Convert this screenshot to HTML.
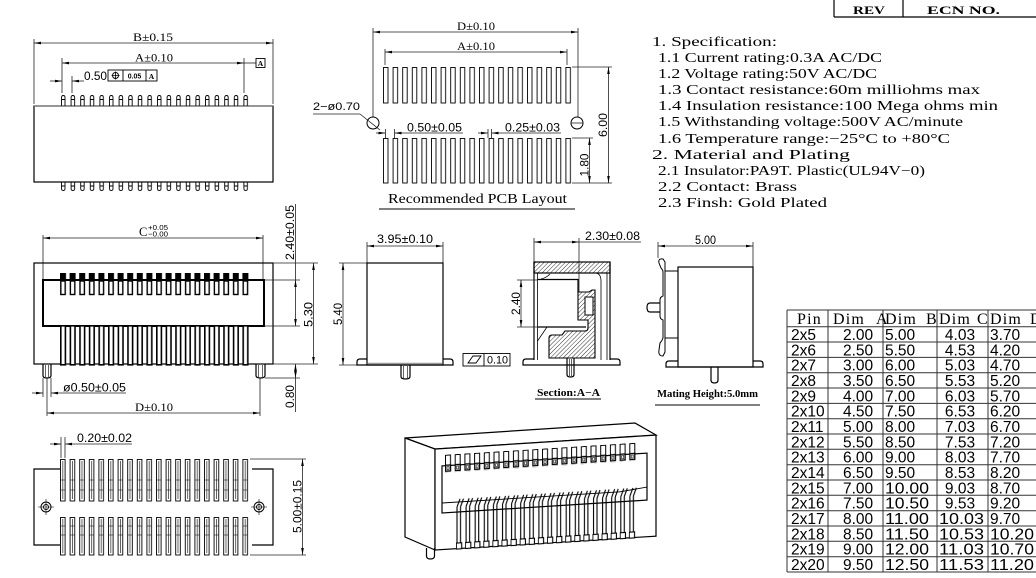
<!DOCTYPE html>
<html><head><meta charset="utf-8"><style>
html,body{margin:0;padding:0;background:#fff;width:1036px;height:578px;overflow:hidden}
svg{display:block}
.d{stroke:#222;stroke-width:.8;fill:none}
.o{stroke:#000;stroke-width:1.2;fill:none}
.s{font-family:"Liberation Sans",sans-serif;fill:#000}
.r{font-family:"Liberation Serif",serif;fill:#000}
</style></head><body>
<svg width="1036" height="578" viewBox="0 0 1036 578" xmlns="http://www.w3.org/2000/svg">
<defs>
<marker id="a" viewBox="0 0 8 4" refX="8" refY="2" markerWidth="7" markerHeight="3.5" markerUnits="userSpaceOnUse" orient="auto-start-reverse"><path d="M0,0.5L8,2L0,3.5z" fill="#000"/></marker>
<pattern id="hat" width="3" height="3" patternUnits="userSpaceOnUse" patternTransform="rotate(45)"><line x1="0" y1="0" x2="0" y2="3" stroke="#000" stroke-width="0.8"/></pattern>
<pattern id="tp" x="61" y="95" width="9.6" height="11" patternUnits="userSpaceOnUse"><path d="M0.5,11V2.5Q0.5,0.5 2.3,0.5Q4,0.5 4,2.5V11M0.5,4.5H4" fill="none" stroke="#000" stroke-width="0.9"/></pattern>
<pattern id="bp" x="61" y="182" width="9.6" height="9" patternUnits="userSpaceOnUse"><path d="M0.5,0V6.5Q0.5,8.5 2.3,8.5Q4,8.5 4,6.5V0M0.5,4H4" fill="none" stroke="#000" stroke-width="0.9"/></pattern>
<pattern id="pt" x="383" y="67" width="9.6" height="37" patternUnits="userSpaceOnUse"><rect x="0.5" y="0.5" width="4.5" height="35.5" fill="none" stroke="#000" stroke-width="0.9"/></pattern>
<pattern id="pb" x="383" y="138" width="9.6" height="46" patternUnits="userSpaceOnUse"><rect x="0.5" y="0.5" width="4.5" height="44.5" fill="none" stroke="#000" stroke-width="0.9"/></pattern>
<pattern id="mt" x="60" y="273" width="9.6" height="23" patternUnits="userSpaceOnUse"><rect x="0" y="0" width="6" height="8" fill="#000"/><rect x="0.8" y="8" width="4.4" height="13.5" fill="#fff" stroke="#000" stroke-width="1.4"/></pattern>
<pattern id="mb" x="60" y="325" width="9.6" height="41" patternUnits="userSpaceOnUse"><rect x="0.8" y="0.8" width="4.6" height="39" fill="#fff" stroke="#000" stroke-width="1.6"/></pattern>
<pattern id="bt" x="60" y="459" width="9.6" height="43" patternUnits="userSpaceOnUse"><rect x="0.5" y="0.5" width="4.6" height="41.5" fill="#fff" stroke="#000" stroke-width="0.9"/><path d="M2.8,2V40M0.5,21H5M0.5,31H5" stroke="#000" stroke-width="0.6"/></pattern>
<pattern id="bb" x="60" y="517" width="9.6" height="39" patternUnits="userSpaceOnUse"><rect x="0.5" y="0.5" width="4.6" height="37.5" fill="#fff" stroke="#000" stroke-width="0.9"/><path d="M2.8,2V36M0.5,9H5M0.5,18H5" stroke="#000" stroke-width="0.6"/></pattern>
<pattern id="t3" x="445" y="455" width="9.7" height="18" patternUnits="userSpaceOnUse"><rect x="0.5" y="0.5" width="5" height="10" fill="#fff" stroke="#000" stroke-width="1"/><rect x="0.5" y="10.5" width="5" height="6" fill="#fff" stroke="#000" stroke-width="1.3"/><rect x="2" y="12" width="2" height="3" fill="none" stroke="#000" stroke-width="0.6"/></pattern>
<pattern id="b3" x="456" y="498" width="9.1" height="54" patternUnits="userSpaceOnUse"><path d="M1,10V46M4.5,10V46M1,10L4,2M4.5,10L7.5,2" fill="none" stroke="#000" stroke-width="1.1"/><rect x="0.3" y="46" width="5.4" height="6" fill="#fff" stroke="#000" stroke-width="1.1"/></pattern>
</defs>

<!-- REV box -->
<path d="M834,0V17M903,0V17M834,17H1036" stroke="#000" stroke-width="1.2" fill="none"/>
<text class="r" x="853" y="14" font-size="12" font-weight="bold" textLength="32" lengthAdjust="spacingAndGlyphs">REV</text>
<text class="r" x="927" y="14" font-size="12" font-weight="bold" textLength="73" lengthAdjust="spacingAndGlyphs">ECN  NO.</text>

<!-- ============ TOP VIEW ============ -->
<line class="d" x1="34" y1="39" x2="34" y2="104"/>
<line class="d" x1="273" y1="39" x2="273" y2="104"/>
<line class="d" x1="34" y1="43" x2="273" y2="43" marker-start="url(#a)" marker-end="url(#a)"/>
<text class="r" x="133" y="41" font-size="11.5" textLength="40" lengthAdjust="spacingAndGlyphs">B±0.15</text>
<line class="d" x1="62" y1="58" x2="62" y2="93"/>
<line class="d" x1="244" y1="58" x2="244" y2="93"/>
<line class="d" x1="72" y1="76" x2="72" y2="93"/>
<line class="d" x1="62" y1="63" x2="244" y2="63" marker-start="url(#a)" marker-end="url(#a)"/>
<text class="r" x="135" y="61.5" font-size="11.5" textLength="38" lengthAdjust="spacingAndGlyphs">A±0.10</text>
<line class="d" x1="244" y1="63" x2="256" y2="63"/>
<rect x="256" y="58.5" width="9" height="9" fill="none" stroke="#000" stroke-width="0.9"/>
<text class="r" x="260.5" y="66" font-size="7.5" font-weight="bold" text-anchor="middle">A</text>
<line class="d" x1="50" y1="81" x2="62" y2="81" marker-end="url(#a)"/>
<line class="d" x1="84" y1="81" x2="72" y2="81" marker-end="url(#a)"/>
<text class="s" x="84" y="80" font-size="11.5" textLength="23" lengthAdjust="spacingAndGlyphs">0.50</text>
<rect x="108" y="70" width="49" height="11" fill="none" stroke="#000" stroke-width="0.9"/>
<line x1="123" y1="70" x2="123" y2="81" stroke="#000" stroke-width="0.9"/>
<line x1="146" y1="70" x2="146" y2="81" stroke="#000" stroke-width="0.9"/>
<circle cx="115.5" cy="75.5" r="3" fill="none" stroke="#000" stroke-width="0.9"/>
<path d="M111.5,75.5H119.5M115.5,71.5V79.5" stroke="#000" stroke-width="0.8"/>
<text class="s" x="134.5" y="78.5" font-size="7" font-weight="bold" text-anchor="middle">0.05</text>
<text class="r" x="151.5" y="79" font-size="7.5" font-weight="bold" text-anchor="middle">A</text>
<rect x="34" y="106" width="239" height="76" class="o"/>
<line x1="34" y1="106" x2="273" y2="106" stroke="#777" stroke-width="1.2"/>
<rect x="61" y="95" width="192" height="11" fill="url(#tp)"/>
<rect x="61" y="182" width="192" height="9" fill="url(#bp)"/>

<!-- ============ PCB LAYOUT ============ -->
<line class="d" x1="373" y1="28" x2="373" y2="117"/>
<line class="d" x1="578" y1="28" x2="578" y2="117"/>
<line class="d" x1="373" y1="32" x2="578" y2="32" marker-start="url(#a)" marker-end="url(#a)"/>
<text class="r" x="457" y="30" font-size="11.5" textLength="38" lengthAdjust="spacingAndGlyphs">D±0.10</text>
<line class="d" x1="385" y1="49" x2="385" y2="65"/>
<line class="d" x1="567" y1="49" x2="567" y2="65"/>
<line class="d" x1="385" y1="52" x2="567" y2="52" marker-start="url(#a)" marker-end="url(#a)"/>
<text class="r" x="457" y="50" font-size="11.5" textLength="38" lengthAdjust="spacingAndGlyphs">A±0.10</text>
<rect x="383" y="67" width="192" height="37" fill="url(#pt)"/>
<rect x="383" y="138" width="192" height="46" fill="url(#pb)"/>
<circle cx="373" cy="123" r="6" fill="none" stroke="#000" stroke-width="1"/>
<circle cx="577" cy="123" r="6" fill="none" stroke="#000" stroke-width="1"/>
<line class="d" x1="571" y1="123" x2="583" y2="123"/>
<text class="s" x="313" y="110" font-size="11" textLength="47" lengthAdjust="spacingAndGlyphs">2−ø0.70</text>
<line class="d" x1="313" y1="114" x2="360" y2="114"/>
<line class="d" x1="360" y1="114" x2="380" y2="130"/>
<line class="d" x1="385.5" y1="129" x2="385.5" y2="138"/>
<line class="d" x1="394.5" y1="129" x2="394.5" y2="138"/>
<line class="d" x1="376" y1="133" x2="385.5" y2="133" marker-end="url(#a)"/>
<line class="d" x1="463" y1="133" x2="394.5" y2="133" marker-end="url(#a)"/>
<text class="s" x="407" y="131.5" font-size="11.5" textLength="55" lengthAdjust="spacingAndGlyphs">0.50±0.05</text>
<line class="d" x1="488" y1="129" x2="488" y2="138"/>
<line class="d" x1="491.5" y1="129" x2="491.5" y2="138"/>
<line class="d" x1="478" y1="133" x2="488" y2="133" marker-end="url(#a)"/>
<line class="d" x1="561" y1="133" x2="491.5" y2="133" marker-end="url(#a)"/>
<text class="s" x="505" y="131.5" font-size="11.5" textLength="55" lengthAdjust="spacingAndGlyphs">0.25±0.03</text>
<line class="d" x1="572" y1="67" x2="612" y2="67"/>
<line class="d" x1="572" y1="183" x2="612" y2="183"/>
<line class="d" x1="572" y1="138" x2="593" y2="138"/>
<line class="d" x1="608.5" y1="67" x2="608.5" y2="183" marker-start="url(#a)" marker-end="url(#a)"/>
<text class="s" transform="translate(607,125) rotate(-90)" font-size="11.5" text-anchor="middle" textLength="24" lengthAdjust="spacingAndGlyphs">6.00</text>
<line class="d" x1="589.5" y1="138" x2="589.5" y2="183" marker-start="url(#a)" marker-end="url(#a)"/>
<text class="s" transform="translate(588.5,165) rotate(-90)" font-size="11.5" text-anchor="middle" textLength="23" lengthAdjust="spacingAndGlyphs">1.80</text>
<text class="r" x="388" y="203" font-size="13.5" textLength="179" lengthAdjust="spacingAndGlyphs">Recommended  PCB  Layout</text>
<line x1="379" y1="209" x2="575" y2="209" stroke="#000" stroke-width="1"/>

<!-- ============ SPEC ============ -->
<g class="r" font-size="13.5">
<text x="652" y="46" textLength="125" lengthAdjust="spacingAndGlyphs">1. Specification:</text>
<text x="658" y="62" textLength="224" lengthAdjust="spacingAndGlyphs">1.1  Current  rating:0.3A  AC/DC</text>
<text x="658" y="78" textLength="219" lengthAdjust="spacingAndGlyphs">1.2  Voltage  rating:50V  AC/DC</text>
<text x="658" y="94" textLength="322" lengthAdjust="spacingAndGlyphs">1.3  Contact  resistance:60m  milliohms  max</text>
<text x="658" y="110" textLength="340" lengthAdjust="spacingAndGlyphs">1.4  Insulation  resistance:100  Mega  ohms  min</text>
<text x="658" y="126" textLength="305" lengthAdjust="spacingAndGlyphs">1.5  Withstanding  voltage:500V  AC/minute</text>
<text x="658" y="143" textLength="292" lengthAdjust="spacingAndGlyphs">1.6  Temperature  range:−25°C  to  +80°C</text>
<text x="652" y="159" textLength="198" lengthAdjust="spacingAndGlyphs">2. Material  and  Plating</text>
<text x="658" y="175" textLength="267" lengthAdjust="spacingAndGlyphs">2.1  Insulator:PA9T.  Plastic(UL94V−0)</text>
<text x="658" y="191" textLength="139" lengthAdjust="spacingAndGlyphs">2.2  Contact:  Brass</text>
<text x="658" y="207" textLength="169" lengthAdjust="spacingAndGlyphs">2.3  Finsh:  Gold  Plated</text>
</g>

<!-- ============ MID-LEFT VIEW ============ -->
<line class="d" x1="43" y1="235" x2="43" y2="280"/>
<line class="d" x1="263" y1="235" x2="263" y2="280"/>
<line class="d" x1="43" y1="238" x2="263" y2="238" marker-start="url(#a)" marker-end="url(#a)"/>
<text class="r" x="139" y="236" font-size="12.5">C</text>
<text class="s" x="148" y="230" font-size="7.5" textLength="20" lengthAdjust="spacingAndGlyphs">+0.05</text>
<text class="s" x="148" y="236.5" font-size="7.5" textLength="20" lengthAdjust="spacingAndGlyphs">−0.00</text>
<rect x="34" y="263" width="239" height="101" class="o"/>
<rect x="43" y="280" width="221" height="46" fill="none" stroke="#000" stroke-width="2"/>
<rect x="60" y="273" width="192" height="23" fill="url(#mt)"/>
<rect x="60" y="325" width="192" height="41" fill="url(#mb)"/>
<path class="o" d="M43,364V375.5Q43,378 47,378Q51,378 51,375.5V364"/>
<path d="M45.5,365V377M48.5,365V377" stroke="#000" stroke-width="0.6"/>
<path class="o" d="M256,364V375.5Q256,378 260.5,378Q265,378 265,375.5V364"/>
<path d="M258.5,365V377M262.5,365V377" stroke="#000" stroke-width="0.6"/>
<line class="d" x1="43" y1="378" x2="43" y2="397"/>
<line class="d" x1="51" y1="378" x2="51" y2="397"/>
<line class="d" x1="32" y1="393" x2="43" y2="393" marker-end="url(#a)"/>
<line class="d" x1="126" y1="393" x2="51" y2="393" marker-end="url(#a)"/>
<text class="s" x="63" y="391.5" font-size="11.5" textLength="63" lengthAdjust="spacingAndGlyphs">ø0.50±0.05</text>
<line class="d" x1="47" y1="378" x2="47" y2="416"/>
<line class="d" x1="260" y1="378" x2="260" y2="416"/>
<line class="d" x1="47" y1="413" x2="260" y2="413" marker-start="url(#a)" marker-end="url(#a)"/>
<text class="r" x="135" y="411" font-size="11.5" textLength="38" lengthAdjust="spacingAndGlyphs">D±0.10</text>
<line class="d" x1="264" y1="280" x2="300" y2="280"/>
<line class="d" x1="264" y1="326" x2="300" y2="326"/>
<line class="d" x1="273" y1="263" x2="318" y2="263"/>
<line class="d" x1="273" y1="364" x2="318" y2="364"/>
<line class="d" x1="265" y1="378" x2="300" y2="378"/>
<line class="d" x1="295.5" y1="204" x2="295.5" y2="280"/>
<line class="d" x1="295.5" y1="280" x2="295.5" y2="326" marker-start="url(#a)" marker-end="url(#a)"/>
<text class="s" transform="translate(294,232.5) rotate(-90)" font-size="12" text-anchor="middle" textLength="55" lengthAdjust="spacingAndGlyphs">2.40±0.05</text>
<line class="d" x1="313.5" y1="263" x2="313.5" y2="364" marker-start="url(#a)" marker-end="url(#a)"/>
<text class="s" transform="translate(312.5,314.5) rotate(-90)" font-size="12" text-anchor="middle" textLength="25" lengthAdjust="spacingAndGlyphs">5.30</text>
<line class="d" x1="295.5" y1="364" x2="295.5" y2="378" marker-start="url(#a)" marker-end="url(#a)"/>
<line class="d" x1="295.5" y1="378" x2="295.5" y2="412"/>
<text class="s" transform="translate(294,396.5) rotate(-90)" font-size="12" text-anchor="middle" textLength="23" lengthAdjust="spacingAndGlyphs">0.80</text>

<!-- ============ FRONT VIEW ============ -->
<line class="d" x1="367" y1="242" x2="367" y2="263"/>
<line class="d" x1="443" y1="242" x2="443" y2="263"/>
<line class="d" x1="367" y1="246" x2="443" y2="246" marker-start="url(#a)" marker-end="url(#a)"/>
<text class="s" x="377" y="243" font-size="12" textLength="56" lengthAdjust="spacingAndGlyphs">3.95±0.10</text>
<line class="d" x1="339" y1="263" x2="367" y2="263"/>
<line class="d" x1="339" y1="365" x2="357" y2="365"/>
<line class="d" x1="343" y1="263" x2="343" y2="365" marker-start="url(#a)" marker-end="url(#a)"/>
<text class="s" transform="translate(342,314) rotate(-90)" font-size="12" text-anchor="middle" textLength="22" lengthAdjust="spacingAndGlyphs">5.40</text>
<rect x="367" y="263" width="76" height="102" class="o"/>
<line x1="368" y1="363.5" x2="442" y2="363.5" stroke="#999" stroke-width="1.5"/>
<path class="o" d="M367,359H360Q357,359 357,362V365H453V362Q453,359 450,359H443"/>
<path class="o" d="M401,365V376.5Q401,379 405.5,379Q410,379 410,376.5V365"/>
<path d="M403.5,366V378M407.5,366V378" stroke="#000" stroke-width="0.6"/>
<rect x="463" y="353.5" width="47" height="12.5" fill="none" stroke="#000" stroke-width="0.9"/>
<line x1="484" y1="353.5" x2="484" y2="366" stroke="#000" stroke-width="0.9"/>
<polygon points="468,363 473,356 481,356 476,363" fill="none" stroke="#000" stroke-width="0.9"/>
<text class="s" x="487" y="363.5" font-size="11" textLength="21" lengthAdjust="spacingAndGlyphs">0.10</text>

<!-- ============ SECTION A-A ============ -->
<line class="d" x1="534" y1="238" x2="534" y2="262"/>
<line class="d" x1="579" y1="238" x2="579" y2="292"/>
<line class="d" x1="534" y1="242" x2="579" y2="242" marker-start="url(#a)" marker-end="url(#a)"/>
<line class="d" x1="579" y1="242" x2="641" y2="242"/>
<text class="s" x="585" y="240" font-size="12" textLength="55" lengthAdjust="spacingAndGlyphs">2.30±0.08</text>
<rect x="534" y="262" width="76" height="11" fill="url(#hat)" stroke="#000" stroke-width="1.2"/>
<path class="o" d="M534,262V360M610,262V360"/>
<path d="M537.5,273V360M607,273V360" stroke="#000" stroke-width="0.8" fill="none"/>
<path d="M596,273Q601,274 601,281V360" stroke="#000" stroke-width="0.8" fill="none"/>
<path class="o" d="M534,359H526Q523,359 523,362V365H620V362Q620,359 617,359H610"/>
<path class="o" d="M537.5,279.5H578V292"/>
<path d="M541,279Q546,278 550,274" stroke="#000" stroke-width="0.8" fill="none"/>
<path d="M578,292H589L592,290H595V358H549V338Q549,335 552,335H562L565,331H585Q588,331 588,328V320H578Z" fill="url(#hat)" stroke="#000" stroke-width="1.1"/>
<rect x="585" y="297" width="8" height="18" fill="#fff" stroke="#000" stroke-width="1"/>
<path class="o" d="M537.5,327H586"/>
<path d="M537.5,341L547,327" stroke="#000" stroke-width="0.8"/>
<line class="d" x1="517" y1="280" x2="537" y2="280"/>
<line class="d" x1="517" y1="327" x2="537" y2="327"/>
<line class="d" x1="521" y1="280" x2="521" y2="327" marker-start="url(#a)" marker-end="url(#a)"/>
<text class="s" transform="translate(520,303.5) rotate(-90)" font-size="12" text-anchor="middle" textLength="23" lengthAdjust="spacingAndGlyphs">2.40</text>
<path class="o" d="M567,358V374.5Q567,377 570.5,377Q574,377 574,374.5V358"/>
<path d="M569.5,359V376M571.5,359V376" stroke="#000" stroke-width="0.6"/>
<text class="r" x="537" y="396" font-size="10.5" font-weight="bold" textLength="63" lengthAdjust="spacingAndGlyphs">Section:A−A</text>
<line x1="535" y1="399" x2="601" y2="399" stroke="#000" stroke-width="1"/>

<!-- ============ MATING VIEW ============ -->
<line class="d" x1="658" y1="242" x2="658" y2="258"/>
<line class="d" x1="753" y1="242" x2="753" y2="267"/>
<line class="d" x1="658" y1="246" x2="753" y2="246" marker-start="url(#a)" marker-end="url(#a)"/>
<text class="s" x="695" y="244" font-size="12" textLength="21" lengthAdjust="spacingAndGlyphs">5.00</text>
<rect x="678" y="267" width="75" height="100" class="o"/>
<path d="M678,271H665M678,338H665" stroke="#000" stroke-width="1"/>
<path d="M663,259Q658,258 659,263L661,268Q663,270 663,272V296Q660,297 660,300V316Q660,319 663,320V338Q662,341 660,343L659,350Q658,356 663,356L665,352V262Z" fill="#fff" stroke="#000" stroke-width="1"/>
<path class="o" d="M660,303H650Q647,303 647,307.5Q647,312 650,312H660"/>
<path class="o" d="M678,361H669Q666,361 666,364V367H763V364Q763,361 760,361H753"/>
<path class="o" d="M711,367V380Q711,383 714.5,383Q718,383 718,380V367"/>
<text class="r" x="657" y="397" font-size="10.5" font-weight="bold" textLength="101" lengthAdjust="spacingAndGlyphs">Mating  Height:5.0mm</text>
<line x1="655" y1="405" x2="760" y2="405" stroke="#000" stroke-width="1"/>

<!-- ============ BOTTOM VIEW ============ -->
<line class="d" x1="61" y1="437" x2="61" y2="458"/>
<line class="d" x1="65" y1="437" x2="65" y2="458"/>
<line class="d" x1="50" y1="444" x2="61" y2="444" marker-end="url(#a)"/>
<line class="d" x1="132" y1="444" x2="65" y2="444" marker-end="url(#a)"/>
<text class="s" x="77" y="442" font-size="11.5" textLength="55" lengthAdjust="spacingAndGlyphs">0.20±0.02</text>
<path class="o" d="M60,469H34V545H60M252,469H273V545H252"/>
<rect x="60" y="459" width="192" height="43" fill="url(#bt)"/>
<rect x="60" y="517" width="192" height="39" fill="url(#bb)"/>
<g fill="none" stroke="#000">
<circle cx="46" cy="507" r="5" stroke-width="1"/><circle cx="46" cy="507" r="2.5" stroke-width="0.9"/>
<path d="M38,507H54M46,499V515" stroke-width="0.6"/>
<circle cx="259" cy="507" r="5" stroke-width="1"/><circle cx="259" cy="507" r="2.5" stroke-width="0.9"/>
<path d="M251,507H267M259,499V515" stroke-width="0.6"/>
</g>
<line class="d" x1="250" y1="459" x2="306" y2="459"/>
<line class="d" x1="250" y1="555" x2="306" y2="555"/>
<line class="d" x1="302.5" y1="459" x2="302.5" y2="555" marker-start="url(#a)" marker-end="url(#a)"/>
<text class="s" transform="translate(301.5,506.5) rotate(-90)" font-size="12" text-anchor="middle" textLength="53" lengthAdjust="spacingAndGlyphs">5.00±0.15</text>

<!-- ============ 3D VIEW ============ -->
<polygon points="405,438 635,423 656,435 435,449" fill="#fff" stroke="#000" stroke-width="1.2"/>
<polygon points="405,438 435,449 435,550 405,537" fill="#fff" stroke="#000" stroke-width="1.2"/>
<path class="o" d="M426.5,548V556Q426.5,559 430.5,559Q434.5,559 434.5,556V548"/>
<g transform="translate(0,27.8) skewY(-3.6)">
<rect x="435" y="448.6" width="221" height="101" fill="#fff" stroke="#000" stroke-width="1.2"/>
<rect x="442" y="466" width="205" height="47" fill="none" stroke="#000" stroke-width="1.2"/>
<line x1="442" y1="503" x2="620" y2="503" stroke="#000" stroke-width="0.9"/>
<line x1="620" y1="503" x2="647" y2="500" stroke="#000" stroke-width="0.9"/>
<rect x="445" y="455" width="194" height="18" fill="url(#t3)"/>
<rect x="456" y="498" width="182" height="54" fill="url(#b3)"/>
</g>

<!-- ============ TABLE ============ -->
<g stroke="#333" stroke-width="1">
<path d="M787,310V572M828,310V572M883,310V572M937,310V572M988,310V572"/>
<path d="M787,310H1036M787,326.7H1036M787,342H1036M787,357.4H1036M787,372.7H1036M787,388H1036M787,403.4H1036M787,418.7H1036M787,434H1036M787,449.3H1036M787,464.7H1036M787,480H1036M787,495.3H1036M787,510.7H1036M787,526H1036M787,541.3H1036M787,556.7H1036M787,572H1036"/>
</g>
<text class="r" y="324" font-size="16" letter-spacing="1.2"><tspan x="797">Pin</tspan><tspan x="833">Dim</tspan><tspan x="876">A</tspan><tspan x="885">Dim</tspan><tspan x="926">B</tspan><tspan x="939">Dim</tspan><tspan x="977">C</tspan><tspan x="990">Dim</tspan><tspan x="1030">D</tspan></text>
<g class="s" font-size="15.5">
<text y="340"><tspan x="791">2x5</tspan><tspan x="843">2.00</tspan><tspan x="885">5.00</tspan><tspan x="960" text-anchor="middle">4.03</tspan><tspan x="990">3.70</tspan></text>
<text y="355.3"><tspan x="791">2x6</tspan><tspan x="843">2.50</tspan><tspan x="885">5.50</tspan><tspan x="960" text-anchor="middle">4.53</tspan><tspan x="990">4.20</tspan></text>
<text y="370.7"><tspan x="791">2x7</tspan><tspan x="843">3.00</tspan><tspan x="885">6.00</tspan><tspan x="960" text-anchor="middle">5.03</tspan><tspan x="990">4.70</tspan></text>
<text y="386"><tspan x="791">2x8</tspan><tspan x="843">3.50</tspan><tspan x="885">6.50</tspan><tspan x="960" text-anchor="middle">5.53</tspan><tspan x="990">5.20</tspan></text>
<text y="401.3"><tspan x="791">2x9</tspan><tspan x="843">4.00</tspan><tspan x="885">7.00</tspan><tspan x="960" text-anchor="middle">6.03</tspan><tspan x="990">5.70</tspan></text>
<text y="416.7"><tspan x="791">2x10</tspan><tspan x="843">4.50</tspan><tspan x="885">7.50</tspan><tspan x="960" text-anchor="middle">6.53</tspan><tspan x="990">6.20</tspan></text>
<text y="432"><tspan x="791">2x11</tspan><tspan x="843">5.00</tspan><tspan x="885">8.00</tspan><tspan x="960" text-anchor="middle">7.03</tspan><tspan x="990">6.70</tspan></text>
<text y="447.3"><tspan x="791">2x12</tspan><tspan x="843">5.50</tspan><tspan x="885">8.50</tspan><tspan x="960" text-anchor="middle">7.53</tspan><tspan x="990">7.20</tspan></text>
<text y="462.6"><tspan x="791">2x13</tspan><tspan x="843">6.00</tspan><tspan x="885">9.00</tspan><tspan x="960" text-anchor="middle">8.03</tspan><tspan x="990">7.70</tspan></text>
<text y="478"><tspan x="791">2x14</tspan><tspan x="843">6.50</tspan><tspan x="885">9.50</tspan><tspan x="960" text-anchor="middle">8.53</tspan><tspan x="990">8.20</tspan></text>
</g>
<g class="s" font-size="15.5">
<text y="493.3"><tspan x="791">2x15</tspan><tspan x="843">7.00</tspan></text>
<text x="885" y="493.3" textLength="44" lengthAdjust="spacingAndGlyphs">10.00</text>
<text y="493.3"><tspan x="960" text-anchor="middle">9.03</tspan><tspan x="990">8.70</tspan></text>
<text y="508.6"><tspan x="791">2x16</tspan><tspan x="843">7.50</tspan></text>
<text x="885" y="508.6" textLength="44" lengthAdjust="spacingAndGlyphs">10.50</text>
<text y="508.6"><tspan x="960" text-anchor="middle">9.53</tspan><tspan x="990">9.20</tspan></text>
<text y="524"><tspan x="791">2x17</tspan><tspan x="843">8.00</tspan></text>
<text x="885" y="524" textLength="44" lengthAdjust="spacingAndGlyphs">11.00</text>
<text x="939" y="524" textLength="45" lengthAdjust="spacingAndGlyphs">10.03</text>
<text x="990" y="524">9.70</text>
<text y="539.3"><tspan x="791">2x18</tspan><tspan x="843">8.50</tspan></text>
<text x="885" y="539.3" textLength="44" lengthAdjust="spacingAndGlyphs">11.50</text>
<text x="939" y="539.3" textLength="45" lengthAdjust="spacingAndGlyphs">10.53</text>
<text x="990" y="539.3" textLength="44" lengthAdjust="spacingAndGlyphs">10.20</text>
<text y="554.6"><tspan x="791">2x19</tspan><tspan x="843">9.00</tspan></text>
<text x="885" y="554.6" textLength="44" lengthAdjust="spacingAndGlyphs">12.00</text>
<text x="939" y="554.6" textLength="45" lengthAdjust="spacingAndGlyphs">11.03</text>
<text x="990" y="554.6" textLength="44" lengthAdjust="spacingAndGlyphs">10.70</text>
<text y="570"><tspan x="791">2x20</tspan><tspan x="843">9.50</tspan></text>
<text x="885" y="570" textLength="44" lengthAdjust="spacingAndGlyphs">12.50</text>
<text x="939" y="570" textLength="45" lengthAdjust="spacingAndGlyphs">11.53</text>
<text x="990" y="570" textLength="44" lengthAdjust="spacingAndGlyphs">11.20</text>
</g>
</svg>
</body></html>
